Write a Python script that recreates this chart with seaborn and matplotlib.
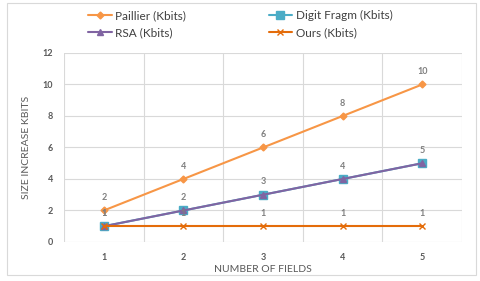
import pandas as pd
import seaborn as sns
from matplotlib import pyplot as plt
from matplotlib.patches import Rectangle

# values
fields = [1, 2, 3, 4, 5]
paillier = [2, 4, 6, 8, 10]
digit_fragm = [1, 2, 3, 4, 5]
rsa = [1, 2, 3, 4, 5]
ours = [1, 1, 1, 1, 1]
series_names = ["Paillier (Kbits)", "Digit Fragm (Kbits)", "RSA (Kbits)", "Ours (Kbits)"]

sns.set_style("white")
plt.rcParams['font.family'] = ['Lato', 'DejaVu Sans']

fig = plt.figure(figsize=(4.8, 2.81), dpi=100)
ax = fig.add_axes([0.1333, 0.1388, 0.8292, 0.6726])

styles = [
    (paillier, "#F79646", "D", 3.5),
    (digit_fragm, "#4BACC6", "s", 5.5),
    (rsa, "#8064A2", "^", 4.5),
    (ours, "#E46C0A", "x", 5),
]
for name, (vals, col, mk, ms) in zip(series_names, styles):
    sns.lineplot(x=fields, y=vals, ax=ax, color=col, marker=mk, markersize=ms,
                 markeredgecolor=col, markeredgewidth=1,
                 linewidth=1.5, label=name)
    if name == "RSA (Kbits)":
        continue
    for xv, yv in zip(fields, vals):
        ax.annotate(str(yv), (xv, yv), xytext=(0, 6), textcoords="offset points",
                    ha="center", va="bottom", fontsize=6.5, color="#7F7F7F",
                    fontweight="bold")

ax.set_xlim(0.5, 5.5)
ax.set_ylim(0, 12)
ax.set_xticks(fields)
ax.set_yticks(range(0, 13, 2))
ax.set_xticks([0.5, 1.5, 2.5, 3.5, 4.5, 5.5], minor=True)
ax.grid(False)
ax.grid(axis="y", which="major", color="#D9D9D9", linewidth=0.8)
ax.grid(axis="x", which="minor", color="#D9D9D9", linewidth=0.8)
ax.set_axisbelow(True)
for s in ax.spines.values():
    s.set_visible(False)
ax.tick_params(axis="both", which="both", length=0, labelsize=6.5, labelcolor="#595959", pad=8)
for lab in ax.get_xticklabels() + ax.get_yticklabels():
    lab.set_fontweight("bold")
ax.set_xlabel("NUMBER OF FIELDS", fontsize=7.5, color="#595959", labelpad=2)
ax.set_ylabel("SIZE INCREASE KBITS", fontsize=7.5, color="#595959", labelpad=8)

# legend rows: Paillier | Digit Fragm, then RSA | Ours
h, l = ax.get_legend_handles_labels()
order = [0, 2, 1, 3]
ax.legend([h[i] for i in order], [l[i] for i in order],
          loc="upper left", bbox_to_anchor=(88 / 480, 1 - 10 / 281), bbox_transform=fig.transFigure,
          ncol=2, frameon=False, fontsize=8.5, labelcolor="#404040", handlelength=2.0,
          columnspacing=7.0, handletextpad=0.3, borderaxespad=0, borderpad=0, labelspacing=0.55)

fig.patches.append(Rectangle((7 / 480, 6 / 281), 469 / 480, 272 / 281, transform=fig.transFigure,
                             fill=False, edgecolor="#D9D9D9", linewidth=0.8))

plt.savefig("out.png", dpi=100)
